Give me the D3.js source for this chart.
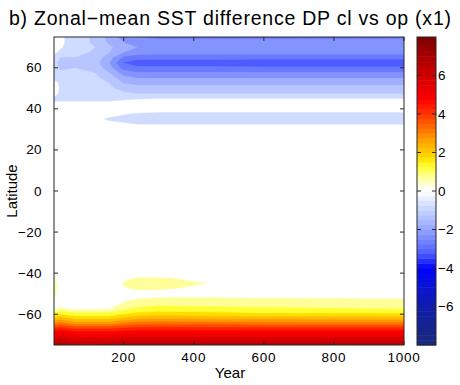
<!DOCTYPE html>
<html>
<head>
<meta charset="utf-8">
<script src="https://cdn.jsdelivr.net/npm/d3@7"></script>
<style>
  body { margin: 0; background: #fff; }
  text { font-family: "Liberation Sans", Arial, sans-serif; fill: #000; }
</style>
</head>
<body>
<div id="container"></div>
<script>
/* DATA */
const years = [1, 20, 60, 120, 160, 200, 240, 300, 450, 600, 1000];
const lats = [75, 72.5, 70, 67.5, 65, 62.5, 60, 57.5, 55, 52.5, 50, 47.5, 45, 42.5, 40,
  37.5, 35, 32.5, 30, 0, -40, -42.5, -45, -47.5, -50, -52.5, -55, -57.5, -60, -62.5,
  -65, -67.5, -70, -72.5, -75];
// one row per latitude, one value per year (degC)
const sst = [
  [0.0, -0.4, -0.75, -1.1, -1.7, -2.2, -2.5, -2.6, -2.6, -2.6, -2.6],
  [0.0, -0.4, -0.75, -1.1, -1.6, -2.0, -2.2, -2.3, -2.3, -2.3, -2.3],
  [-0.3, -0.45, -0.75, -1.0, -1.4, -1.8, -2.0, -2.0, -2.0, -2.0, -2.0],
  [-0.4, -0.6, -0.8, -1.1, -1.5, -2.0, -2.2, -2.3, -2.3, -2.3, -2.3],
  [-0.7, -1.0, -1.0, -1.2, -1.8, -2.6, -2.8, -2.8, -2.8, -2.8, -2.8],
  [-0.8, -1.2, -1.1, -1.3, -2.0, -3.0, -3.2, -3.2, -3.2, -3.3, -3.3],
  [-0.7, -1.1, -1.0, -1.2, -1.8, -2.7, -2.9, -2.9, -2.9, -2.9, -2.9],
  [-0.6, -0.9, -0.9, -1.0, -1.5, -2.2, -2.4, -2.4, -2.4, -2.4, -2.4],
  [-0.6, -0.7, -0.8, -0.9, -1.2, -1.8, -2.0, -2.0, -2.0, -2.0, -2.0],
  [-0.3, -0.6, -0.7, -0.8, -1.0, -1.5, -1.6, -1.6, -1.6, -1.6, -1.6],
  [-0.2, -0.6, -0.7, -0.7, -0.9, -1.2, -1.3, -1.3, -1.3, -1.3, -1.3],
  [-0.3, -0.6, -0.7, -0.7, -0.8, -0.9, -1.0, -1.0, -1.0, -1.0, -1.0],
  [-0.6, -0.6, -0.6, -0.6, -0.6, -0.6, -0.55, -0.5, -0.5, -0.5, -0.5],
  [-0.4, -0.4, -0.4, -0.4, -0.4, -0.2, 0, 0, 0, 0, 0],
  [0, 0, 0, 0, 0, 0, 0, 0, 0, 0, 0],
  [0, 0, 0, 0, -0.3, -0.45, -0.6, -0.7, -0.7, -0.7, -0.7],
  [0, 0, 0, -0.35, -0.6, -0.7, -0.7, -0.7, -0.7, -0.7, -0.7],
  [0, 0, 0, 0, -0.3, -0.4, -0.5, -0.5, -0.5, -0.5, -0.5],
  [0, 0, 0, 0, 0, 0, 0, 0, 0, 0, 0],
  [0, 0, 0, 0, 0, 0, 0, 0, 0, 0, 0],
  [0, 0, 0, 0, 0, 0, 0, 0, 0, 0, 0],
  [0.55, 0, 0, 0, 0, 0.3, 0.6, 0.6, 0.2, 0, 0],
  [0.8, 0, 0, 0, 0, 0.55, 0.7, 0.7, 0.48, 0, 0],
  [0.8, 0, 0, 0, 0, 0.45, 0.6, 0.6, 0.3, 0, 0],
  [0.7, 0, 0, 0, 0, 0.1, 0.2, 0.2, 0.2, 0.15, 0.1],
  [0.5, 0.1, 0.1, 0.1, 0.1, 0.3, 0.5, 0.6, 0.6, 0.55, 0.5],
  [0.3, 0.25, 0.2, 0.2, 0.2, 0.6, 0.8, 0.9, 0.85, 0.8, 0.75],
  [0.5, 0.6, 0.45, 0.45, 0.5, 0.9, 1.1, 1.2, 1.15, 1.1, 1.0],
  [1.3, 1.5, 1.2, 1.2, 1.2, 1.5, 1.7, 1.8, 1.7, 1.6, 1.6],
  [2.2, 2.4, 2.0, 2.0, 2.0, 2.3, 2.5, 2.6, 2.5, 2.5, 2.4],
  [3.2, 3.4, 3.0, 3.0, 3.0, 3.3, 3.5, 3.5, 3.5, 3.4, 3.4],
  [4.3, 4.5, 4.2, 4.2, 4.2, 4.3, 4.4, 4.4, 4.4, 4.4, 4.4],
  [5.1, 5.4, 5.0, 5.0, 5.0, 5.1, 5.1, 5.1, 5.1, 5.1, 5.1],
  [5.9, 6.2, 5.8, 5.8, 5.8, 5.9, 5.9, 5.9, 5.9, 5.9, 5.9],
  [6.6, 6.9, 6.5, 6.5, 6.6, 6.7, 6.7, 6.7, 6.7, 6.7, 6.7]
];
const xTicks = [200, 400, 600, 800, 1000];
const yTicks = [-60, -40, -20, 0, 20, 40, 60];
const cbTicks = [-6, -4, -2, 0, 2, 4, 6];
const levels = d3.range(0.5, 8.01, 0.5);

// colour map stops
const cmapStops = [-8, -6.5, -5, -4, -3.25, -2.75, -2.25, -1.75, -1.25, -0.75, -0.25, 0,
  0.25, 0.75, 1.25, 1.75, 2.75, 4.25, 4.75, 6.25, 8];
const cmapColors = ["#1a2a7a", "#10209a", "#0a14d0", "#0000ff", "#4c5cff", "#6a7aff",
  "#8494ff", "#a0b0ff", "#b8c6ff", "#d0dcff", "#f2f5ff", "#ffffff",
  "#ffffe6", "#ffff99", "#ffff33", "#ffdd00", "#ff9900", "#ff2200", "#ff0000", "#c80000", "#7a0000"];

/* LAYOUT */
const width = 460, height = 385;
const mLeft = 54, mRight = 404, mTop = 37, mBottom = 345;
const cbLeft = 417, cbRight = 436;

const svg = d3.select("#container").append("svg")
  .attr("width", width).attr("height", height);

const x = d3.scaleLinear().domain([1, 1000]).range([mLeft, mRight]);
const y = d3.scaleLinear().domain([-75, 75]).range([mBottom, mTop]);
const cmap = d3.scaleLinear().domain(cmapStops).range(cmapColors).clamp(true);
const cy = d3.scaleLinear().domain([-8, 8]).range([mBottom, mTop]);

// grid index -> data coords
const idxYear = d3.scaleLinear().domain(d3.range(years.length)).range(years).clamp(true);
const idxLat = d3.scaleLinear().domain(d3.range(lats.length)).range(lats).clamp(true);
const proj = d3.geoTransform({
  point(px, py) { this.stream.point(x(idxYear(px - 0.5)), y(idxLat(py - 0.5))); }
});
const path = d3.geoPath(proj);

svg.append("clipPath").attr("id", "clip")
  .append("rect").attr("x", mLeft).attr("y", mTop)
  .attr("width", mRight - mLeft).attr("height", mBottom - mTop);

const flat = sst.flat();
const contours = d3.contours().size([years.length, lats.length]).thresholds(levels);

const g = svg.append("g").attr("clip-path", "url(#clip)");
g.append("rect").attr("x", mLeft).attr("y", mTop)
  .attr("width", mRight - mLeft).attr("height", mBottom - mTop).attr("fill", "#fff");

g.selectAll(".pos")
  .data(contours(flat))
  .join("path")
  .attr("class", "pos")
  .attr("d", path)
  .attr("fill", d => cmap(d.value + 0.25))
  .attr("stroke", d => cmap(d.value + 0.25))
  .attr("stroke-width", 0.3);

g.selectAll(".neg")
  .data(contours(flat.map(v => -v)))
  .join("path")
  .attr("class", "neg")
  .attr("d", path)
  .attr("fill", d => cmap(-d.value - 0.25))
  .attr("stroke", d => cmap(-d.value - 0.25))
  .attr("stroke-width", 0.3);

// axes box and ticks
const tickLen = 4;
const axes = svg.append("g").attr("stroke", "#262626").attr("fill", "none");
axes.append("rect").attr("x", mLeft).attr("y", mTop)
  .attr("width", mRight - mLeft).attr("height", mBottom - mTop).attr("stroke-width", 1);

xTicks.forEach(t => {
  axes.append("line").attr("x1", x(t)).attr("x2", x(t)).attr("y1", mBottom).attr("y2", mBottom - tickLen);
  axes.append("line").attr("x1", x(t)).attr("x2", x(t)).attr("y1", mTop).attr("y2", mTop + tickLen);
});
yTicks.forEach(t => {
  axes.append("line").attr("x1", mLeft).attr("x2", mLeft + tickLen).attr("y1", y(t)).attr("y2", y(t));
  axes.append("line").attr("x1", mRight).attr("x2", mRight - tickLen).attr("y1", y(t)).attr("y2", y(t));
});

const fmt = d3.format("d");
svg.selectAll(".xlab").data(xTicks).join("text")
  .attr("x", d => x(d)).attr("y", 362)
  .attr("text-anchor", "middle").attr("font-size", 13.5)
  .attr("letter-spacing", 0.8)
  .text(fmt);
svg.selectAll(".ylab").data(yTicks).join("text")
  .attr("x", 42).attr("y", d => y(d) + 4.5)
  .attr("text-anchor", "end").attr("font-size", 13.5)
  .attr("letter-spacing", 0.4)
  .text(fmt);

svg.append("text").attr("x", (mLeft + mRight) / 2 + 1).attr("y", 378)
  .attr("text-anchor", "middle").attr("font-size", 15).text("Year");
svg.append("text")
  .attr("transform", `translate(17, ${(mTop + mBottom) / 2}) rotate(-90)`)
  .attr("text-anchor", "middle").attr("font-size", 15).text("Latitude");

svg.append("text").attr("x", 9).attr("y", 25)
  .attr("font-size", 19.5)
  .attr("textLength", 442).attr("lengthAdjust", "spacing")
  .text("b) Zonal\u2212mean SST difference DP cl vs op (x1)");

// colour bar
const nStripes = 64;
const step = 16 / nStripes;
svg.selectAll(".cb").data(d3.range(nStripes)).join("rect")
  .attr("class", "cb")
  .attr("x", cbLeft).attr("width", cbRight - cbLeft)
  .attr("y", i => cy(-8 + (i + 1) * step))
  .attr("height", i => cy(-8 + i * step) - cy(-8 + (i + 1) * step) + 0.5)
  .attr("fill", i => cmap(-8 + (i + 0.5) * step));

const cb = svg.append("g").attr("stroke", "#262626").attr("fill", "none");
cb.append("rect").attr("x", cbLeft).attr("y", mTop)
  .attr("width", cbRight - cbLeft).attr("height", mBottom - mTop);
cbTicks.forEach(t => {
  cb.append("line").attr("x1", cbLeft).attr("x2", cbLeft + tickLen).attr("y1", cy(t)).attr("y2", cy(t));
  cb.append("line").attr("x1", cbRight).attr("x2", cbRight - tickLen).attr("y1", cy(t)).attr("y2", cy(t));
});
svg.selectAll(".cblab").data(cbTicks).join("text")
  .attr("x", 438).attr("y", d => cy(d) + 4.5)
  .attr("font-size", 13.5)
  .text(fmt);
</script>
</body>
</html>
